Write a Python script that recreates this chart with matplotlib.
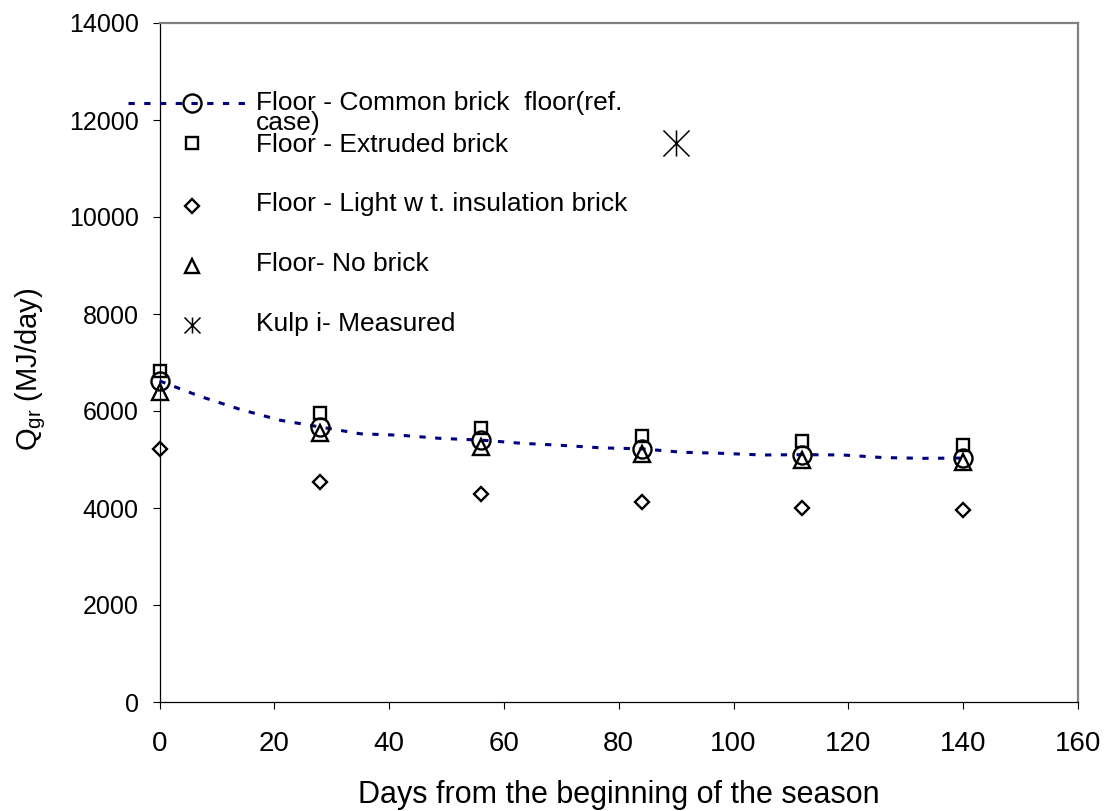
import matplotlib
matplotlib.use('Agg')
import matplotlib.pyplot as plt
from matplotlib.path import Path

# ---------------- data ----------------
days = [0, 28, 56, 84, 112, 140]
extruded = [6830, 5950, 5640, 5490, 5390, 5290]
light_wt = [5210, 4540, 4280, 4120, 4010, 3960]
no_brick = [6390, 5550, 5260, 5110, 5000, 4940]

sim_days = [0, 7, 14, 21, 28, 35, 42, 49, 56, 63, 70, 77, 84, 91, 98, 105,
            112, 119, 126, 133, 140]
common = [6620, 6305, 6035, 5810, 5670, 5530, 5500, 5435, 5400, 5335, 5292,
          5240, 5220, 5150, 5127, 5093, 5100, 5093, 5040, 5024, 5030]

kulpi_day = [90]
kulpi_val = [11530]

labels = ["Floor - Common brick  floor(ref.\ncase)",
          "Floor - Extruded brick",
          "Floor - Light w t. insulation brick",
          "Floor- No brick",
          "Kulp i- Measured"]
xticks = [0, 20, 40, 60, 80, 100, 120, 140, 160]
yticks = [0, 2000, 4000, 6000, 8000, 10000, 12000, 14000]

# ---------------- style ----------------
plt.rcParams['font.family'] = ['Liberation Sans', 'DejaVu Sans']
plt.rcParams['mathtext.default'] = 'regular'

NAVY = '#000080'
W, H = 1106, 811
L, R, T, B = 159.5, 1078.0, 23.0, 702.0

fig = plt.figure(figsize=(W / 100, H / 100), dpi=100)
ax = fig.add_axes([L / W, 1 - B / H, (R - L) / W, (B - T) / H])

star = Path([(0, -1), (0, 1), (-1, -1), (1, 1), (-1, 1), (1, -1)],
            [Path.MOVETO, Path.LINETO] * 3)

line_kw = dict(color=NAVY, lw=2.2, linestyle=(0, (2.05, 3.1)),
               dash_capstyle='butt')
circ_kw = dict(marker='o', ms=13, mfc='none', mec='black', mew=1.7)
sq_kw = dict(marker='s', ms=9.3, mfc='none', mec='black', mew=1.7)
dia_kw = dict(marker='D', ms=7.5, mfc='none', mec='black', mew=1.7)
tri_kw = dict(marker='^', ms=11.0, mfc='none', mec='black', mew=1.7)

# ---------------- series ----------------
ax.plot(sim_days, common, **line_kw, zorder=3, clip_on=False)
ax.plot(sim_days, common, linestyle='none', markevery=4, **circ_kw, zorder=4,
        clip_on=False)
ax.plot(days, extruded, linestyle='none', **sq_kw, zorder=4, clip_on=False)
ax.plot(days, light_wt, linestyle='none', **dia_kw, zorder=4, clip_on=False)
ax.plot(days, no_brick, linestyle='none', **tri_kw, zorder=4, clip_on=False)
ax.plot(kulpi_day, kulpi_val, linestyle='none', marker=star, ms=18.8,
        mec='black', mew=1.1, zorder=4, clip_on=False)

# ---------------- axes ----------------
ax.set_xlim(0, 160)
ax.set_ylim(0, 14000)
ax.set_xticks(xticks)
ax.set_yticks(yticks)
ax.tick_params(axis='both', direction='out', length=5, width=0.8,
               colors='black')
ax.tick_params(axis='y', pad=10, labelsize=18)
ax.tick_params(axis='x', pad=16, labelsize=20)

for s in ('left', 'bottom'):
    ax.spines[s].set_color('black')
    ax.spines[s].set_linewidth(0.9)
for s in ('top', 'right'):
    ax.spines[s].set_color('#808080')
    ax.spines[s].set_linewidth(1.6)

ax.set_xlabel('Days from the beginning of the season', fontsize=22)
ax.xaxis.label.set_va('center')
ax.xaxis.set_label_coords(0.5, (B - 795) / (B - T))
ax.set_ylabel(r'Q$_{gr}$ (MJ/day)', fontsize=21)
ax.yaxis.label.set_va('center')
ax.yaxis.set_label_coords((31 - L) / (R - L), (B - 369) / (B - T))

# ---------------- legend (drawn by hand to match the layout) ----------------
def fx(px):
    return (px - L) / (R - L)

def fy(py):
    return (B - py) / (B - T)

tr = ax.transAxes
mx = 192
tx = 256
fs_leg = 19
cap_half = 0.716 * fs_leg * 100 / 72 / 2

ax.plot([fx(128), fx(247)], [fy(103), fy(103)], transform=tr, clip_on=False,
        **line_kw, zorder=5)
ax.plot([fx(mx)], [fy(103)], transform=tr, clip_on=False, linestyle='none',
        **circ_kw, zorder=6)
ax.plot([fx(mx)], [fy(143)], transform=tr, clip_on=False, linestyle='none',
        **sq_kw, zorder=6)
ax.plot([fx(mx)], [fy(206)], transform=tr, clip_on=False, linestyle='none',
        **dict(dia_kw, ms=7.0), zorder=6)
ax.plot([fx(mx)], [fy(266)], transform=tr, clip_on=False, linestyle='none',
        **dict(tri_kw, ms=10.0), zorder=6)
ax.plot([fx(mx)], [fy(325)], transform=tr, clip_on=False, linestyle='none',
        marker=star, ms=11.5, mec='black', mew=1.1, zorder=6)

text_y = [101, 143, 202.5, 262, 322]
for lab, ty in zip(labels, text_y):
    top = fy(ty - cap_half - 0.19 * fs_leg * 100 / 72 + 4)
    ax.text(fx(tx), top, lab, transform=tr, fontsize=fs_leg,
            va='top', ha='left', linespacing=0.84, zorder=6)

fig.savefig('out.png', dpi=100)
